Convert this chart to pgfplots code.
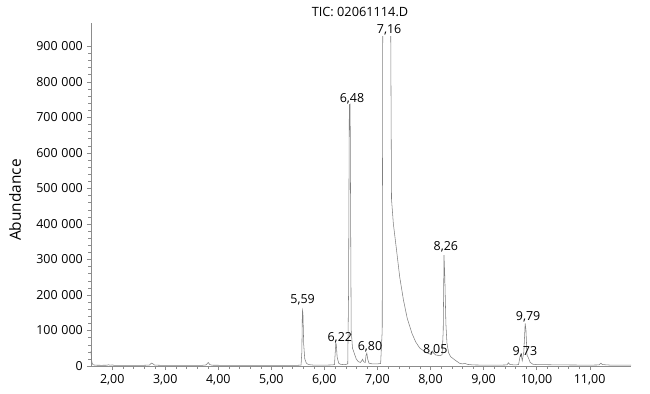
\documentclass[12pt,border=0pt]{standalone}
\usepackage{fontspec}
\setmainfont{Open Sans}
\usepackage{pgfplots}
\pgfplotsset{compat=1.18}
\begin{document}
\begin{tikzpicture}
\useasboundingbox (-91bp,-28bp) rectangle (559bp,366bp);
\begin{axis}[
  scale only axis, width=540bp, height=343bp,
  xmin=1.6, xmax=11.78, ymin=0, ymax=965000,
  axis x line=bottom, axis y line=left,
  axis line style={-, draw=black!45},
  tick style={draw=black!45},
  tick align=outside,
  major tick length=4bp, minor tick length=2.5bp,
  xtick={2,3,...,11}, minor x tick num=4,
  ytick={0,100000,...,900000}, minor y tick num=4,
  scaled y ticks=false, scaled x ticks=false,
  /pgf/number format/assume math mode=true,
  tick label style={font=\fontsize{12.5}{14}\selectfont},
  x tick label style={/pgf/number format/.cd, fixed, fixed zerofill, precision=2, use comma},
  y tick label style={/pgf/number format/.cd, fixed, 1000 sep={\hspace{0.3em}}},
  xticklabel shift=0bp, yticklabel shift=0bp,
  ylabel={Abundance},
  ylabel style={at={(axis description cs:-0.1407,0.484)}, anchor=center, inner sep=0pt, font=\fontsize{15.5}{17}\selectfont},
  clip=false,
]
\addplot[black!50, line width=0.55pt] coordinates {
(1.60,42000) (1.605,30000) (1.615,12000) (1.63,5000) (1.65,3000) (1.70,2200) (1.80,2000) (1.90,2200) (1.93,3500) (1.96,2200) (2.00,3000) (2.03,2000) (2.20,1800) (2.40,1800) (2.60,2000) (2.70,2500) (2.74,8000) (2.77,6000) (2.80,2500) (2.90,2000) (3.20,1800) (3.50,1800) (3.70,2000) (3.77,3000) (3.81,10000) (3.84,4000) (3.88,2200) (4.20,1800) (4.60,1800) (5.00,1800) (5.30,1900) (5.50,2000) (5.56,2500) (5.575,40000) (5.585,157000) (5.595,150000) (5.61,60000) (5.63,20000) (5.66,8000) (5.70,4000) (5.80,2500) (6.00,2500) (6.15,3000) (6.19,4000) (6.205,40000) (6.215,65000) (6.225,60000) (6.24,25000) (6.27,8000) (6.30,5000) (6.35,4000) (6.40,4000) (6.44,6000) (6.455,200000) (6.47,735000) (6.485,737000) (6.495,400000) (6.505,100000) (6.53,50000) (6.56,37000) (6.60,20000) (6.64,12000) (6.68,10000) (6.70,14000) (6.72,19000) (6.74,12000) (6.77,10000) (6.785,30000) (6.80,36000) (6.815,20000) (6.84,8000) (6.90,6000) (7.00,6000) (7.06,7000) (7.09,100000) (7.10,950000) (7.25,950000) (7.265,470000) (7.30,400000) (7.36,326000) (7.42,250000) (7.49,186000) (7.56,135000) (7.65,92000) (7.72,68000) (7.80,50000) (7.90,40000) (7.98,34000) (8.02,33000) (8.04,42000) (8.06,36000) (8.10,31000) (8.18,29000) (8.22,32000) (8.24,100000) (8.255,312000) (8.27,250000) (8.29,120000) (8.31,65000) (8.34,38000) (8.38,26000) (8.46,17000) (8.55,7500) (8.60,6000) (8.65,7000) (8.70,4500) (8.80,3000) (9.00,2500) (9.30,2500) (9.44,3000) (9.47,9000) (9.50,4000) (9.60,3000) (9.66,4000) (9.69,28000) (9.71,31000) (9.73,15000) (9.76,40000) (9.785,120000) (9.80,100000) (9.82,30000) (9.84,25000) (9.88,10000) (9.93,5000) (10.00,4000) (10.50,3000) (11.00,2500) (11.18,3000) (11.21,8000) (11.24,4000) (11.40,2500) (11.78,2500)
};
\begin{scope}[every node/.style={inner sep=0pt, font=\fontsize{12.5}{14}\selectfont}]
\node at (axis cs:5.59,185600) {5,59};
\node at (axis cs:6.29,79000) {6,22};
\node at (axis cs:6.52,751000) {6,48};
\node at (axis cs:6.86,53000) {6,80};
\node[fill=white, inner sep=1pt] at (axis cs:7.22,947000) {7,16};
\node at (axis cs:8.09,45000) {8,05};
\node at (axis cs:8.29,335000) {8,26};
\node at (axis cs:9.84,138000) {9,79};
\node at (axis cs:9.78,39400) {9,73};
\end{scope}
\end{axis}
\node[inner sep=0pt, font=\fontsize{12.8}{14}\selectfont] at (269bp,354bp) {TIC: 02061114.D};
\end{tikzpicture}
\end{document}
